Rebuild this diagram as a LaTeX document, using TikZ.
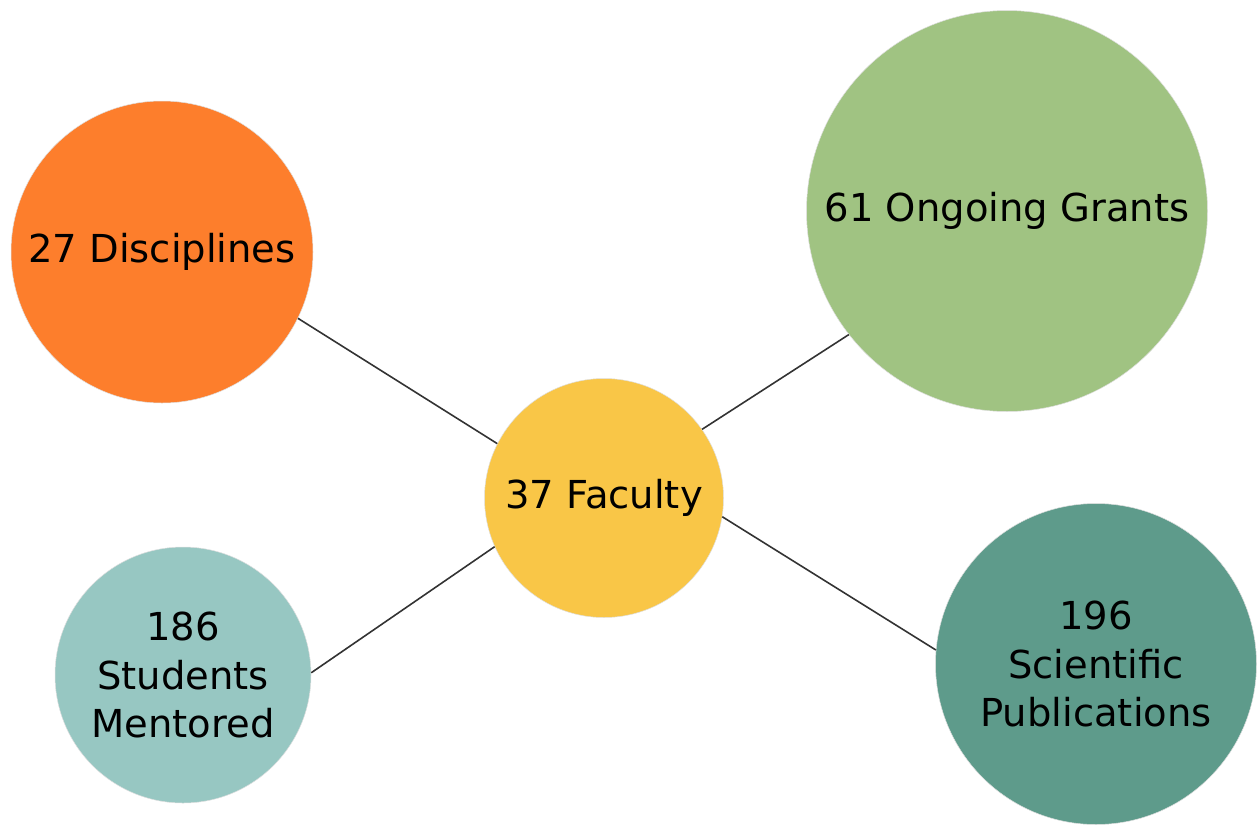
\documentclass[tikz,border=0pt]{standalone}
\usepackage{fontspec}
\setmainfont{DejaVu Sans}

\definecolor{orange_disc}{HTML}{FD7E2C}
\definecolor{green_grant}{HTML}{A0C382}
\definecolor{yellow_fac}{HTML}{F9C647}
\definecolor{teal_stud}{HTML}{97C7C2}
\definecolor{teal_pub}{HTML}{5E9B8B}

\begin{document}
\begin{tikzpicture}[x=1pt,y=-1pt,
  bubble/.style={circle,inner sep=0pt,draw=gray!25,line width=0.5pt,align=center,
    font=\fontsize{38.5}{48.5}\selectfont},
  link/.style={draw=black!80,line width=1.6pt}]

\useasboundingbox (0,0) rectangle (1257,825) ;

\node[bubble,fill=yellow_fac,minimum size=239pt] (fac) at (604,498) {37 Faculty} ;
\node[bubble,fill=orange_disc,minimum size=302pt] (disc) at (162,252) {27 Disciplines} ;
\node[bubble,fill=green_grant,minimum size=401pt] (grant) at (1007,211) {61 Ongoing Grants} ;
\node[bubble,fill=teal_stud,minimum size=256pt] (stud) at (183,675) {186\\Students\\Mentored} ;
\node[bubble,fill=teal_pub,minimum size=321pt] (pub) at (1096,664) {196\\Scientific\\Publications} ;

\draw[link] (disc.-26.7) -- (fac.153.6) ;
\draw[link] (grant.218.7) -- (fac.35.3) ;
\draw[link] (fac.-9.6) -- (pub.175.7) ;
\draw[link] (stud.1) -- (fac.204.2) ;

\end{tikzpicture}
\end{document}
